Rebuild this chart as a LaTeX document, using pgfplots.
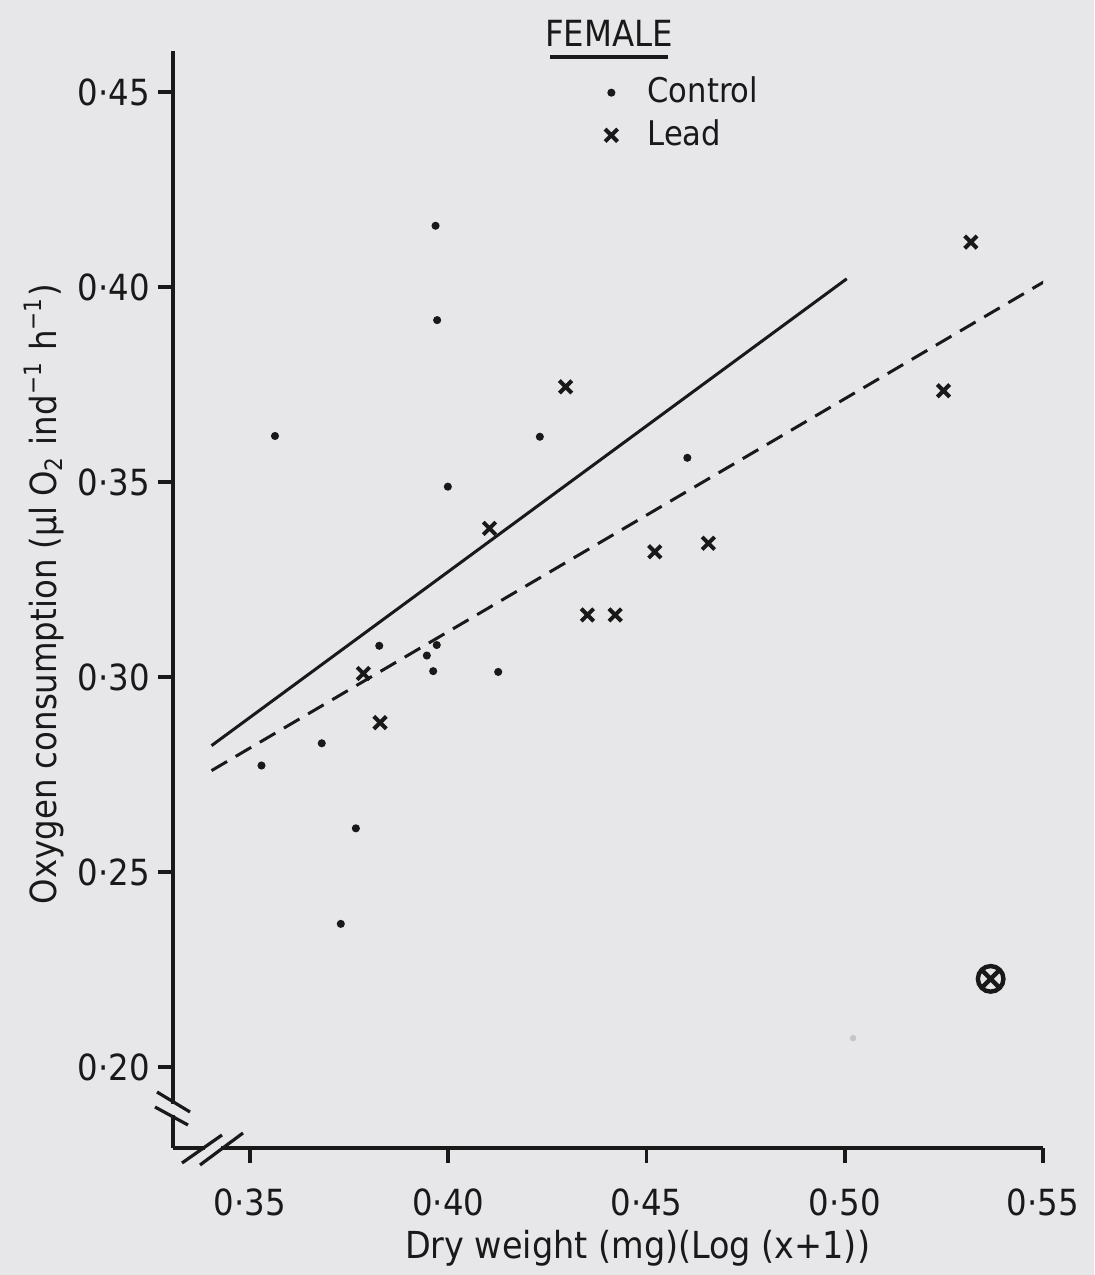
\documentclass[border=0pt]{standalone}
\usepackage{fontspec}
\setmainfont{DejaVu Sans Condensed}
\usepackage{pgfplots}
\pgfplotsset{compat=1.18}
\usetikzlibrary{plotmarks}
\definecolor{bg}{RGB}{231,231,233}
\definecolor{ink}{RGB}{25,25,25}
\begin{document}
\begin{tikzpicture}
\fill[bg] (0pt,0pt) rectangle (273.5pt,318.75pt);
\useasboundingbox (0pt,0pt) rectangle (273.5pt,318.75pt);
\begin{axis}[
  at={(43.25pt,31.75pt)}, anchor=south west,
  scale only axis, width=217.5pt, height=274.25pt,
  xmin=0.33058, xmax=0.55, ymin=0.17923, ymax=0.46051,
  axis lines=left,
  axis line style={-, line width=0.9pt, ink},
  tick align=outside, major tick length=3.75pt,
  every tick/.style={ink, line width=0.9pt},
  xtick={0.35,0.40,0.45,0.50,0.55},
  xticklabels={0·35,0·40,0·45,0·50,0·55},
  ytick={0.20,0.25,0.30,0.35,0.40,0.45},
  yticklabels={0·20,0·25,0·30,0·35,0·40,0·45},
  tick label style={font=\fontsize{9}{11}\selectfont, text=ink},
  xticklabel style={yshift=-3pt},
  yticklabel style={xshift=1.5pt},
  ylabel={Oxygen consumption (μl O\textsubscript{2} ind\textsuperscript{−1} h\textsuperscript{−1})},
  label style={font=\fontsize{9}{11}\selectfont, text=ink},
  xlabel={Dry weight (mg)(Log (x+1))},
  xlabel style={at={(axis description cs:0.534,-0.0912)}, anchor=center, font=\fontsize{9.3}{11}\selectfont},
  ylabel style={at={(axis description cs:-0.148,0.505)}, anchor=center},
  legend style={at={(axis description cs:0.482,0.99)}, anchor=north west,
    draw=none, fill=none, font=\fontsize{8.5}{9}\selectfont, text=ink,
    column sep=6pt, row sep=-0.3pt, nodes={inner sep=1.5pt}},
  legend cell align=left,
]
\addplot[only marks, mark=*, mark size=0.8pt, color=ink] coordinates {
(0.3968,0.4157) (0.3972,0.3915) (0.3563,0.3618) (0.3999,0.3488)
(0.4231,0.3616) (0.4603,0.3562) (0.3826,0.3080) (0.3946,0.3055)
(0.3971,0.3082) (0.3962,0.3015) (0.4126,0.3013) (0.3681,0.2830)
(0.3529,0.2773) (0.3767,0.2612) (0.3729,0.2367)
};
\addlegendentry{Control}
\addplot[only marks, mark=x, mark size=2.2pt, line width=1pt, color=ink] coordinates {
(0.4104,0.3381) (0.3786,0.3009) (0.3828,0.2883) (0.4296,0.3744)
(0.4521,0.3321) (0.4656,0.3343) (0.4351,0.3159) (0.4421,0.3159)
(0.5318,0.4115) (0.5249,0.3734)
};
\addlegendentry{Lead}
\addplot[only marks, mark=otimes, mark size=3.2pt, line width=1.1pt, color=ink, forget plot]
  coordinates {(0.5368,0.2226)};
\addplot[only marks, mark=*, mark size=0.6pt, color=gray!45, forget plot]
  coordinates {(0.5021,0.2074)};
\addplot[ink, line width=0.75pt, forget plot] coordinates {(0.3403,0.2824) (0.5005,0.4021)};
\addplot[ink, line width=0.75pt, dash pattern=on 4.5pt off 2.5pt, forget plot]
  coordinates {(0.3403,0.2760) (0.5507,0.4016)};
\end{axis}
% axis breaks
\fill[bg] (42.25pt,40pt) rectangle (44.25pt,42.75pt);
\fill[bg] (51.25pt,30.75pt) rectangle (55.25pt,32.75pt);
\draw[ink, line width=0.8pt] (39.25pt,45.75pt)--(47.5pt,40.75pt);
\draw[ink, line width=0.8pt] (38.75pt,42pt)--(47pt,37.5pt);
\draw[ink, line width=0.8pt] (45.5pt,28pt)--(55.5pt,35pt);
\draw[ink, line width=0.8pt] (50pt,27.5pt)--(60.75pt,35.5pt);
\node[text=ink, font=\fontsize{9}{11}\selectfont] at (152.25pt,310.5pt) {FEMALE};
\draw[ink, line width=0.8pt] (137.5pt,304.5pt) -- (167pt,304.5pt);
\end{tikzpicture}
\end{document}
